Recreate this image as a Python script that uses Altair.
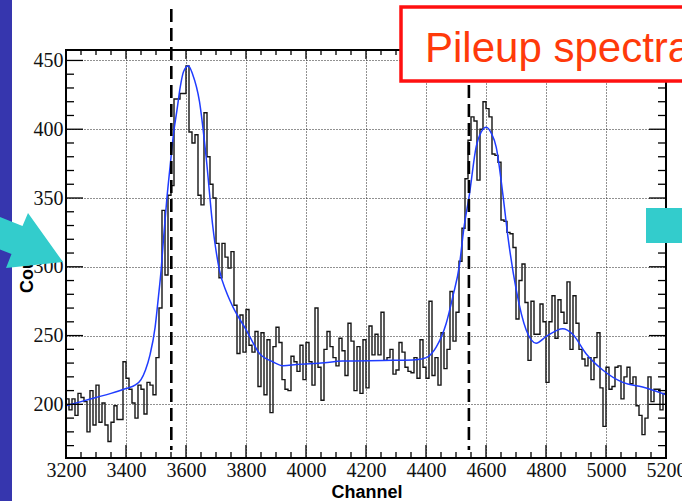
import altair as alt
import pandas as pd

# ---------------- data ----------------
# histogram contents, 10-channel bins, 3200 ... 5190
counts_3200 = [204, 196, 204, 192, 208, 205, 202, 180, 210, 185,
               214, 187, 201, 185, 173, 187, 199, 189, 189, 231]
counts_3400 = [219, 211, 201, 190, 214, 211, 193, 216, 214, 207,
               234, 270, 341, 294, 352, 359, 422, 422, 426, 426]
counts_3600 = [446, 398, 390, 396, 352, 345, 412, 380, 360, 350,
               317, 292, 317, 307, 299, 311, 272, 237, 265, 238,
               269, 243, 238, 253, 213, 252, 207, 247, 194, 242,
               256, 245, 218, 211, 210, 235, 231, 224, 243, 218]
counts_4000 = [245, 231, 214, 270, 227, 203, 240, 253, 242, 234,
               228, 248, 239, 221, 259, 246, 210, 242, 208, 247,
               212, 257, 236, 251, 236, 267, 232, 234, 240, 222,
               225, 245, 238, 227, 224, 223, 234, 219, 247, 227]
counts_4400 = [219, 275, 221, 234, 214, 252, 226, 240, 282, 246,
               267, 304, 328, 364, 392, 409, 406, 363, 400, 420,
               415, 409, 382, 381, 376, 334, 333, 325, 324, 314,
               262, 290, 302, 274, 232, 275, 251, 251, 273, 260]
counts_4800 = [216, 260, 279, 248, 276, 267, 259, 289, 240, 279,
               259, 240, 233, 228, 234, 218, 234, 252, 212, 184,
               227, 211, 213, 227, 228, 204, 220, 227, 215, 220,
               199, 192, 178, 190, 220, 202, 211, 211, 196, 208]
counts = counts_3200 + counts_3400 + counts_3600 + counts_4000 + counts_4400 + counts_4800
first_channel = 3200
bin_width = 10

# fitted curve (blue)
fit_channel = [3200, 3250, 3300, 3350, 3400, 3430, 3450, 3465, 3480, 3497,
               3508, 3516, 3525, 3536, 3547, 3558, 3570, 3581, 3592, 3608,
               3622, 3645, 3667, 3689, 3712, 3734, 3756, 3801, 3845, 3889,
               3925, 3968, 4050, 4122, 4289, 4367, 4401, 4434, 4467, 4489,
               4512, 4525, 4545, 4567, 4584, 4601, 4618, 4634, 4656, 4673,
               4701, 4734, 4767, 4801, 4856, 4889, 4933, 4989, 5056, 5122, 5200]
fit_value = [199, 202, 205, 208, 211.5, 214, 218, 225, 236, 256,
             278, 295, 320, 349, 373, 396, 414, 431, 442, 446,
             440, 420, 380, 330, 297, 282, 271, 254, 237, 231,
             228, 229, 230, 231.5, 232, 232.5, 234, 241.6, 258.6, 278,
             302, 326, 353, 387, 398, 401.5, 397, 387, 353, 322,
             283, 254, 244.5, 249.4, 255, 251, 237, 225, 216, 212.6, 207]

# dashed marker lines
marker_channels = [3551, 4543]

# axis ticks / labels
x_major = [3200, 3400, 3600, 3800, 4000, 4200, 4400, 4600, 4800, 5000, 5200]
x_minor = [c for c in range(3250, 5200, 50) if c not in x_major]
y_major = [200, 250, 300, 350, 400, 450]
y_minor = [v for v in range(170, 460, 10) if v not in y_major]

# ---------------- chart ----------------
W, H = 600, 408
bin_edges = [first_channel + bin_width * i for i in range(len(counts) + 1)]
hist_df = pd.DataFrame({"ch": bin_edges, "v": counts + [counts[-1]]})
fit_df = pd.DataFrame({"ch": fit_channel, "v": fit_value})
one = pd.DataFrame({"a": [0]})

SERIF = "'Liberation Serif', 'Times New Roman', Times, serif"
SANS = "'Liberation Sans', Arial, sans-serif"

xscale = alt.Scale(domain=[3200, 5200], nice=False, zero=False)
yscale = alt.Scale(domain=[161, 457.6], nice=False, zero=False)
xaxis = alt.Axis(values=x_major, grid=True, gridDash=[1, 2], gridColor="#222",
                 gridWidth=1, ticks=False, tickSize=0, domain=False,
                 labelFont=SERIF, labelFontSize=20, labelColor="#111",
                 labelPadding=2, labelFlush=False, labelOverlap=False,
                 format="d", title=None)
yaxis = alt.Axis(values=y_major, grid=True, gridDash=[1, 2], gridColor="#222",
                 gridWidth=1, ticks=False, tickSize=0, domain=False,
                 labelFont=SERIF, labelFontSize=20, labelColor="#111",
                 labelPadding=3, labelFlush=False, labelOverlap=False,
                 format="d", title=None)


def X():
    return alt.X("ch:Q", scale=xscale, axis=xaxis)


def Y():
    return alt.Y("v:Q", scale=yscale, axis=yaxis)


strip = alt.Chart(one).mark_rect(color="#3636ae").encode(
    x=alt.value(-66), x2=alt.value(-54), y=alt.value(-50), y2=alt.value(451))

hist = alt.Chart(hist_df).mark_line(interpolate="step-after", color="#151515",
                                    strokeWidth=1.4).encode(x=X(), y=Y())

fit = alt.Chart(fit_df).mark_line(interpolate="monotone", color="#1f3cff",
                                  strokeWidth=1.5).encode(x=X(), y=Y())

markers = alt.Chart(pd.DataFrame({"ch": marker_channels})).mark_rule(
    color="black", strokeWidth=2.6, strokeDash=[13, 6]).encode(
    x=X(), y=alt.value(-41), y2=alt.value(400))

xmaj_df = pd.DataFrame({"ch": x_major})
xmin_df = pd.DataFrame({"ch": x_minor})
ymaj_df = pd.DataFrame({"v": y_major})
ymin_df = pd.DataFrame({"v": y_minor})
tick_style = dict(color="black", strokeWidth=1.3)
ticks = [
    alt.Chart(xmaj_df).mark_rule(**tick_style).encode(x=X(), y=alt.value(H), y2=alt.value(H - 13)),
    alt.Chart(xmin_df).mark_rule(**tick_style).encode(x=X(), y=alt.value(H), y2=alt.value(H - 6)),
    alt.Chart(xmaj_df).mark_rule(**tick_style).encode(x=X(), y=alt.value(0), y2=alt.value(9)),
    alt.Chart(xmin_df).mark_rule(**tick_style).encode(x=X(), y=alt.value(0), y2=alt.value(5)),
    alt.Chart(ymaj_df).mark_rule(**tick_style).encode(y=Y(), x=alt.value(0), x2=alt.value(17)),
    alt.Chart(ymin_df).mark_rule(**tick_style).encode(y=Y(), x=alt.value(0), x2=alt.value(8)),
    alt.Chart(ymaj_df).mark_rule(**tick_style).encode(y=Y(), x=alt.value(W), x2=alt.value(W - 17)),
    alt.Chart(ymin_df).mark_rule(**tick_style).encode(y=Y(), x=alt.value(W), x2=alt.value(W - 8)),
]

frame = alt.Chart(one).mark_rect(fillOpacity=0, stroke="black", strokeWidth=2).encode(
    x=alt.value(0), x2=alt.value(W), y=alt.value(0), y2=alt.value(H))

red_box = alt.Chart(one).mark_rect(fill="white", stroke="#ff1010", strokeWidth=3.5).encode(
    x=alt.value(335), x2=alt.value(650), y=alt.value(-43), y2=alt.value(31))

red_text = alt.Chart(one).mark_text(align="left", baseline="alphabetic", font=SANS,
                                    fontSize=42, color="#ff3a0a").encode(
    x=alt.value(359), y=alt.value(12), text=alt.value("Pileup spectra"))

cyan_box = alt.Chart(one).mark_rect(color="#33cccc").encode(
    x=alt.value(580), x2=alt.value(650), y=alt.value(158), y2=alt.value(193))

y_title = alt.Chart(one).mark_text(angle=270, align="center", baseline="alphabetic",
                                   font=SANS, fontWeight="bold",
                                   fontSize=18, color="black").encode(
    x=alt.value(-33), y=alt.value(212), text=alt.value("Counts"))

arrow_path = ("M -0.8 -0.575 L -0.2375 -0.35 L -0.1 -0.675 L 0.775 0.55 "
              "L -0.65 0.7 L -0.5125 0.35 L -0.8 0.235 Z")
arrow = alt.Chart(one).mark_point(shape=arrow_path, size=6400, filled=True,
                                  color="#33cccc", opacity=1, strokeWidth=0).encode(
    x=alt.value(-34), y=alt.value(190))

x_title = alt.Chart(one).mark_text(align="center", baseline="alphabetic",
                                   font=SANS, fontWeight="bold",
                                   fontSize=18, color="black").encode(
    x=alt.value(301), y=alt.value(448), text=alt.value("Channel"))

chart = alt.layer(
    strip, hist, fit, markers, *ticks, frame, red_box, red_text, cyan_box,
    y_title, arrow, x_title
).properties(
    width=W, height=H,
    autosize=alt.AutoSizeParams(type="none"),
    padding={"left": 66, "top": 50, "right": 16, "bottom": 43},
    background="white",
).configure_view(stroke="transparent")

chart.save("out.html", embed_options={"renderer": "svg", "actions": False})
